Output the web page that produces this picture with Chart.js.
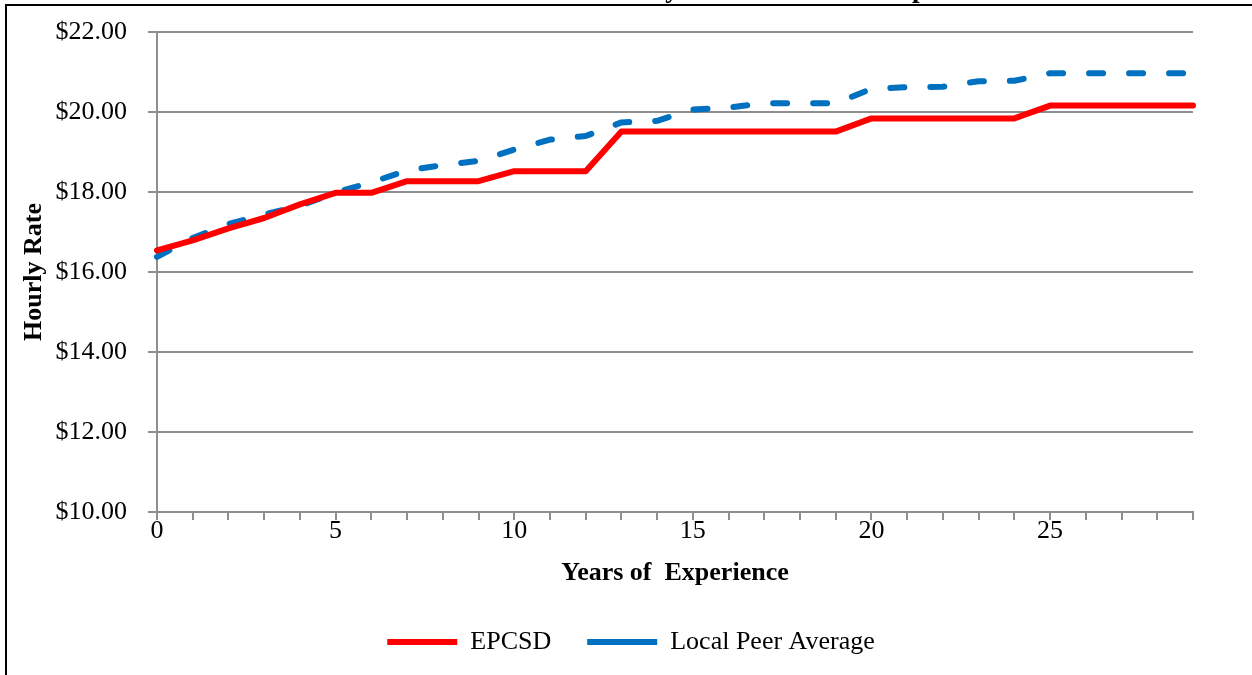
<!DOCTYPE html>
<html>
<head>
<meta charset="utf-8">
<script src="https://cdn.jsdelivr.net/npm/chart.js@4"></script>
<style>
  html, body { margin: 0; padding: 0; background: #fff; overflow: hidden; }
  #wrap { position: relative; width: 1252px; height: 675px; }
  #frame { position: absolute; left: 5px; top: 4px; width: 1300px; height: 700px;
           border-top: 2px solid #000; border-left: 2px solid #000; pointer-events: none; }
</style>
</head>
<body>
<div id="wrap">
  <canvas id="rateChart" width="1252" height="675"></canvas>
  <div id="frame"></div>
</div>
<script>
// values
var years = ['0','1','2','3','4','5','6','7','8','9','10','11','12','13','14',
             '15','16','17','18','19','20','21','22','23','24','25','26','27','28','29'];
var shownYears = ['0','5','10','15','20','25'];
var epcsd = [16.54, 16.79, 17.09, 17.35, 17.69, 17.98, 17.98, 18.27, 18.27, 18.27,
             18.52, 18.52, 18.52, 19.51, 19.51, 19.51, 19.51, 19.51, 19.51, 19.51,
             19.84, 19.84, 19.84, 19.84, 19.84, 20.16, 20.16, 20.16, 20.16, 20.16];
var peerAverage = [16.38, 16.85, 17.20, 17.44, 17.65, 17.99, 18.24, 18.54, 18.67, 18.78,
                   19.06, 19.31, 19.40, 19.74, 19.78, 20.06, 20.11, 20.22, 20.22, 20.22,
                   20.58, 20.62, 20.63, 20.77, 20.78, 20.97, 20.97, 20.97, 20.97, 20.97];
var yTickValues = [10, 12, 14, 16, 18, 20, 22];
var titleText = 'Custodian Hourly Rate Schedule Comparison';

var FONT = '"Liberation Serif", "Times New Roman", serif';
var gridColor = '#8e8e8e';

// the title sits above the top of the picture, only its descenders show
var cutTitle = {
  id: 'cutTitle',
  afterDraw: function(chart) {
    var ctx = chart.ctx;
    ctx.save();
    ctx.font = 'bold 27px ' + FONT;
    ctx.fillStyle = '#000';
    ctx.textBaseline = 'alphabetic';
    ctx.textAlign = 'left';
    var pre = ctx.measureText('Custodian Hourl').width + ctx.measureText('y').width / 2;
    ctx.fillText(titleText, 672 - pre, -3);
    ctx.restore();
  }
};

var ctx = document.getElementById('rateChart').getContext('2d');
var rateChart = new Chart(ctx, {
  type: 'line',
  data: {
    labels: years,
    datasets: [{
      label: 'EPCSD',
      data: epcsd,
      borderColor: '#ff0000',
      backgroundColor: '#ff0000',
      borderWidth: 6,
      borderJoinStyle: 'round',
      borderCapStyle: 'round',
      pointRadius: 0,
      pointStyle: 'line',
      tension: 0,
      fill: false
    }, {
      label: 'Local Peer Average',
      data: peerAverage,
      borderColor: '#0070c0',
      backgroundColor: '#0070c0',
      borderWidth: 6,
      borderDash: [14, 26],
      borderJoinStyle: 'round',
      borderCapStyle: 'round',
      pointRadius: 0,
      pointStyle: 'line',
      tension: 0,
      fill: false
    }]
  },
  plugins: [cutTitle],
  options: {
    responsive: false,
    animation: false,
    devicePixelRatio: 1,
    layout: { autoPadding: false, padding: { left: 10, right: 0, top: 32, bottom: 10 } },
    plugins: {
      title: { display: false },
      tooltip: { enabled: false },
      legend: {
        display: true,
        position: 'bottom',
        labels: {
          usePointStyle: true,
          pointStyle: 'line',
          boxWidth: 70,
          pointStyleWidth: 70,
          padding: 36,
          color: '#000',
          font: { family: FONT, size: 26 }
        }
      }
    },
    scales: {
      x: {
        type: 'category',
        offset: false,
        grid: { drawOnChartArea: false, drawTicks: true, tickLength: 8, color: gridColor, lineWidth: 2 },
        border: { color: gridColor, width: 2 },
        ticks: {
          autoSkip: false,
          maxRotation: 0,
          padding: -4,
          color: '#000',
          font: { family: FONT, size: 26 },
          callback: function(value) {
            var label = this.getLabelForValue(value);
            return shownYears.indexOf(label) >= 0 ? label : '';
          }
        },
        title: {
          display: true,
          text: 'Years of  Experience',
          color: '#000',
          font: { family: FONT, size: 26, weight: 'bold' },
          padding: { top: 0, bottom: 4 }
        },
        afterFit: function(scale) { scale.height = 81; }
      },
      y: {
        min: 10,
        max: 22,
        afterBuildTicks: function(scale) {
          scale.ticks = yTickValues.map(function(v) { return { value: v }; });
        },
        grid: { color: gridColor, lineWidth: 2, tickLength: 9 },
        border: { color: gridColor, width: 2 },
        ticks: {
          padding: 21,
          color: '#000',
          font: { family: FONT, size: 26, lineHeight: 0.8 },
          callback: function(value) { return '$' + Number(value).toFixed(2); }
        },
        title: {
          display: true,
          text: 'Hourly Rate',
          color: '#000',
          font: { family: FONT, size: 26, weight: 'bold' },
          padding: { top: 9, bottom: 0 }
        },
        afterFit: function(scale) { scale.width = 147; }
      },
      // empty strip on the right, keeps the plot edge at the reference position
      spacer: {
        type: 'linear',
        position: 'right',
        display: true,
        grid: { display: false, drawTicks: false },
        border: { display: false },
        ticks: { display: false },
        afterFit: function(scale) { scale.width = 59; }
      }
    }
  }
});
</script>
</body>
</html>
